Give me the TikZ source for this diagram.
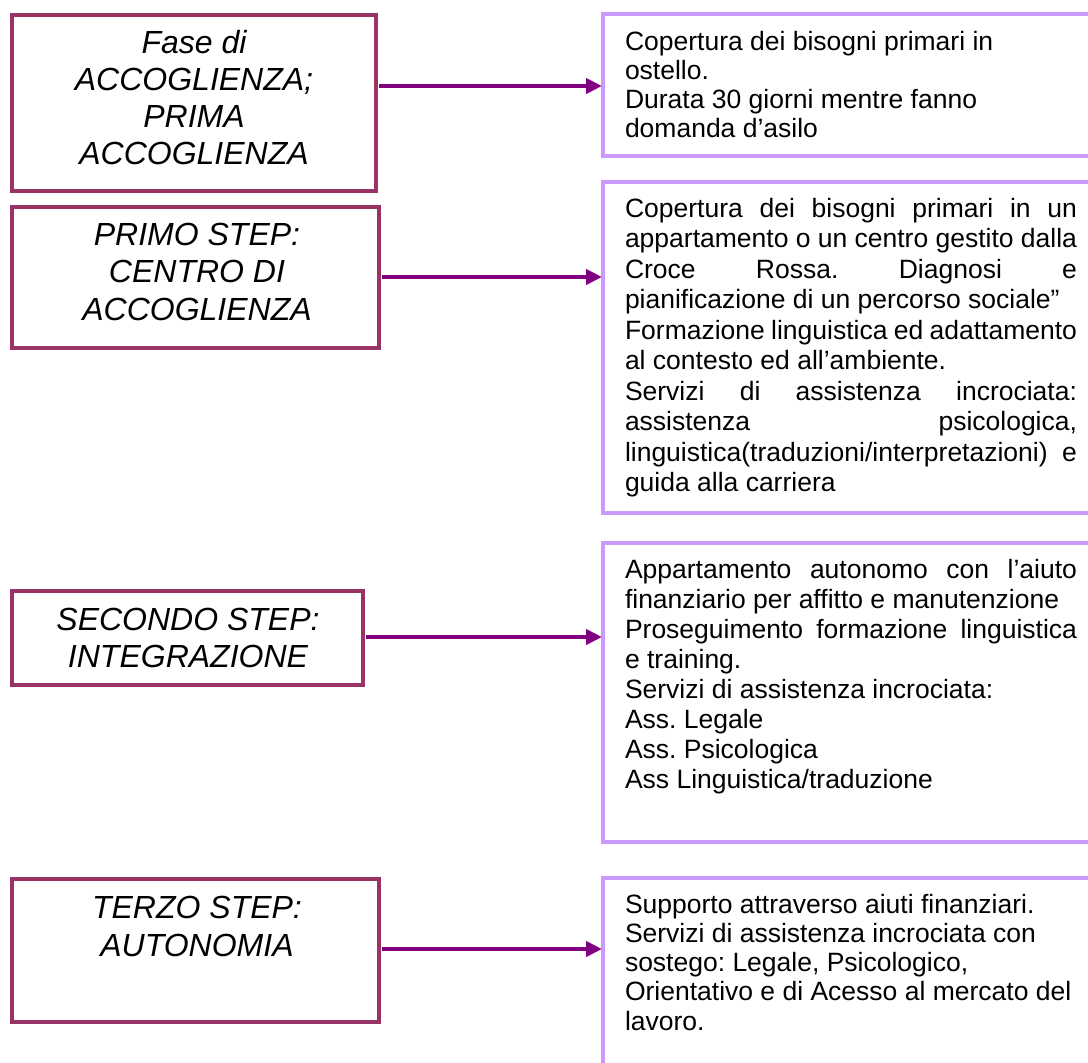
\documentclass[tikz,border=0pt]{standalone}
\usepackage{fontspec}
\setmainfont{Liberation Sans}
\usetikzlibrary{arrows.meta}
\frenchspacing
\definecolor{lborder}{HTML}{993366}
\definecolor{rborder}{HTML}{CC99FF}
\definecolor{arrcol}{HTML}{800080}
\newcommand\mylbl[3]{\begin{minipage}[t]{#1}\centering\fontsize{32}{#2}\selectfont\itshape #3\end{minipage}}
\newcommand\myrtxt[2]{\begin{minipage}[t]{452pt}\frenchspacing\fontsize{26.5}{#1}\selectfont #2\end{minipage}}
\newcommand\jl[1]{\makebox[\linewidth][s]{#1}}
\tikzset{
 lbox/.style={draw=lborder, line width=4pt, inner sep=0pt, outer sep=0pt, anchor=north west},
 rbox/.style={draw=rborder, line width=4pt, inner sep=0pt, outer sep=0pt, anchor=north west},
 ltext/.style={inner sep=0pt, outer sep=0pt, anchor=base},
 rtext/.style={inner sep=0pt, outer sep=0pt, anchor=base west},
 conn/.style={draw=arrcol, line width=4.5pt, -{Triangle[length=16pt,width=15pt]}, shorten >=1pt, shorten <=3pt}
}
\begin{document}
\begin{tikzpicture}[x=1pt,y=-1pt]
\clip (0,0) rectangle (1088,1063);
\fill[white] (0,0) rectangle (1088,1063);
% left boxes
\node[lbox, minimum width=364pt, minimum height=176pt] (L1) at (12,15) {};
\node[lbox, minimum width=367pt, minimum height=141pt] (L2) at (12,207) {};
\node[lbox, minimum width=351pt, minimum height=94pt] (L3) at (12,591) {};
\node[lbox, minimum width=367pt, minimum height=143pt] (L4) at (12,879) {};
% right boxes
\node[rbox, minimum width=497pt, minimum height=142pt] (R1) at (603,14) {};
\node[rbox, minimum width=497pt, minimum height=331pt] (R2) at (603,182) {};
\node[rbox, minimum width=497pt, minimum height=299pt] (R3) at (603,543) {};
\node[rbox, minimum width=497pt, minimum height=200pt] (R4) at (603,878) {};
% left texts
\node[ltext] (T1) at (194,53) {\mylbl{360pt}{37.3}{Fase di\\ACCOGLIENZA;\\PRIMA\\ACCOGLIENZA}};
\node[ltext] (T2) at (197,245) {\mylbl{360pt}{37.5}{PRIMO STEP:\\CENTRO DI\\ACCOGLIENZA}};
\node[ltext] (T3) at (188,630) {\mylbl{350pt}{37}{SECONDO STEP:\\INTEGRAZIONE}};
\node[ltext] (T4) at (197,918) {\mylbl{360pt}{38}{TERZO STEP:\\AUTONOMIA}};
% right texts
\node[rtext] (S1) at (625,50) {\myrtxt{29.3}{Copertura dei bisogni primari in\\ostello.\\Durata 30 giorni mentre fanno\\domanda d’asilo}};
\node[rtext] (S2) at (625,217) {\myrtxt{30.5}{\jl{Copertura dei bisogni primari in un}\\
\jl{appartamento o un centro gestito dalla}\\
\jl{Croce Rossa. Diagnosi e}\\
pianificazione di un percorso sociale”\\
\jl{Formazione linguistica ed adattamento}\\
al contesto ed all’ambiente.\\
\jl{Servizi di assistenza incrociata:}\\
\jl{assistenza psicologica,}\\
\jl{linguistica(traduzioni/interpretazioni) e}\\
guida alla carriera}};
\node[rtext] (S3) at (625,578) {\myrtxt{30}{\jl{Appartamento autonomo con l’aiuto}\\
finanziario per affitto e manutenzione\\
\jl{Proseguimento formazione linguistica}\\
e training.\\
Servizi di assistenza incrociata:\\
Ass. Legale\\
Ass. Psicologica\\
Ass Linguistica/traduzione}};
\node[rtext] (S4) at (625,913) {\myrtxt{29.3}{Supporto attraverso aiuti finanziari.\\
Servizi di assistenza incrociata con\\
sostego: Legale, Psicologico,\\
Orientativo e di Acesso al mercato del\\
lavoro.}};
% connectors
\coordinate (a1) at (0,86);
\coordinate (a2) at (0,277);
\coordinate (a3) at (0,637);
\coordinate (a4) at (0,949);
\draw[conn] (L1.east |- a1) -- (R1.west |- a1);
\draw[conn] (L2.east |- a2) -- (R2.west |- a2);
\draw[conn] (L3.east |- a3) -- (R3.west |- a3);
\draw[conn] (L4.east |- a4) -- (R4.west |- a4);
\end{tikzpicture}
\end{document}
